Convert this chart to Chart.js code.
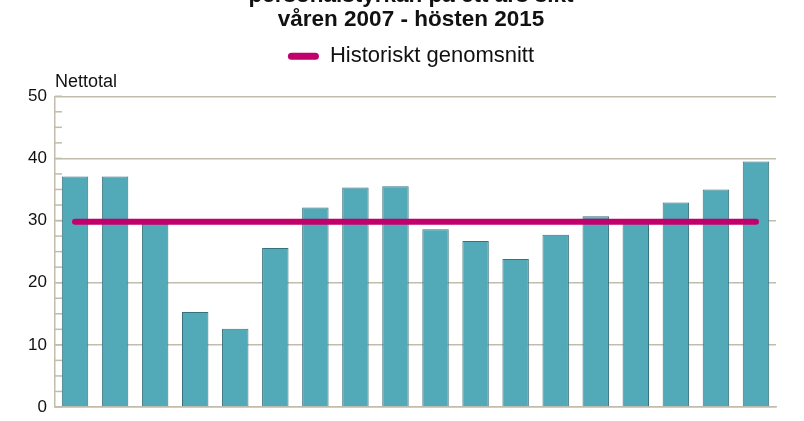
<!DOCTYPE html>
<html lang="sv">
<head>
<meta charset="utf-8">
<title>Personalstyrkan</title>
<script src="https://cdn.jsdelivr.net/npm/chart.js@4.4.1/dist/chart.umd.min.js"></script>
<style>
    html, body { margin: 0; padding: 0; background: #fff; overflow: hidden; }
    #wrap { position: relative; width: 804px; height: 421px; overflow: hidden; }
    #box { position: absolute; left: 0; top: -18px; width: 804px; height: 439px; }
</style>
</head>
<body>
<div id="wrap">
    <div id="box"><canvas id="barChart"></canvas></div>
</div>
<script>
// Chart data
const periods = ['V07', 'H07', 'V08', 'H08', 'V09', 'H09', 'V10', 'H10', 'V11',
                 'H11', 'V12', 'H12', 'V13', 'H13', 'V14', 'H14', 'V15', 'H15'];
const nettotal = [37.1, 37.1, 29.5, 15.3, 12.6, 25.6, 32.1, 35.3, 35.5,
                  28.6, 26.7, 23.8, 27.7, 30.7, 30.2, 32.9, 35.0, 39.5];
const historicalMean = periods.map(() => 29.8);
const titleLines = ['personalstyrkan på ett års sikt', 'våren 2007 - hösten 2015'];
const yTicks = { min: 0, max: 50, step: 2.5, labelEvery: 10 };

const gridColor = '#c2bcac';
const barColor = '#52a9b8';
const barBorder = '#37717d';
const meanColor = '#c2006c';
const font = 'Liberation Sans, Arial, sans-serif';

// Short ticks drawn inside the plot on the y axis, plus the unit label
const innerTicks = {
    id: 'innerTicks',
    beforeDatasetsDraw(chart) {
        const ctx = chart.ctx;
        const y = chart.scales.y;
        const left = chart.chartArea.left;
        ctx.save();
        ctx.strokeStyle = gridColor;
        ctx.lineWidth = 1.5;
        y.ticks.forEach(t => {
            const py = y.getPixelForValue(t.value);
            ctx.beginPath();
            ctx.moveTo(left, py);
            ctx.lineTo(left + 7, py);
            ctx.stroke();
        });
        ctx.restore();
    },
    afterDraw(chart) {
        const ctx = chart.ctx;
        ctx.save();
        ctx.fillStyle = '#111';
        ctx.font = '18px ' + font;
        ctx.textAlign = 'left';
        ctx.textBaseline = 'alphabetic';
        ctx.fillText('Nettotal', chart.chartArea.left, chart.chartArea.top - 9);
        ctx.restore();
    }
};

const legendLabels = Chart.defaults.plugins.legend.labels.generateLabels;

// Empty axes used only as spacers
const spacer = size => ({
    display: true,
    grid: { display: false, drawTicks: false },
    border: { display: false },
    ticks: { display: false },
    afterFit: scale => {
        if (scale.isHorizontal()) scale.height = size;
        else scale.width = size;
    }
});

new Chart(document.getElementById('barChart'), {
    data: {
        labels: periods,
        datasets: [
            {
                type: 'line',
                label: 'Historiskt genomsnitt',
                data: historicalMean,
                borderColor: meanColor,
                backgroundColor: meanColor,
                borderWidth: 6,
                borderCapStyle: 'round',
                pointRadius: 0,
                order: 0
            },
            {
                type: 'bar',
                label: 'Nettotal',
                data: nettotal,
                backgroundColor: barColor,
                borderColor: barBorder,
                borderWidth: 1,
                categoryPercentage: 1,
                barPercentage: 0.66,
                order: 1
            }
        ]
    },
    options: {
        responsive: true,
        maintainAspectRatio: false,
        animation: false,
        layout: {
            padding: { left: 18, right: 0, top: 0, bottom: 14 }
        },
        plugins: {
            title: {
                display: true,
                text: titleLines,
                color: '#111',
                font: { family: font, size: 22.5, weight: 'bold', lineHeight: 1.05 },
                padding: { top: 2, bottom: 4 }
            },
            legend: {
                display: true,
                labels: {
                    color: '#111',
                    font: { family: font, size: 22 },
                    boxWidth: 31,
                    boxHeight: 7,
                    useBorderRadius: true,
                    borderRadius: 3.5,
                    padding: 10,
                    filter: item => item.datasetIndex === 0,
                    generateLabels: chart => legendLabels(chart).map(l => {
                        l.lineWidth = 0;
                        return l;
                    })
                }
            },
            tooltip: { enabled: false }
        },
        scales: {
            x: {
                offset: true,
                grid: { display: false, drawTicks: false },
                border: { display: true, color: gridColor, width: 1.5 },
                ticks: { display: false },
                afterFit: scale => { scale.height = 0; }
            },
            xTop: Object.assign({ type: 'category', position: 'top' }, spacer(19)),
            y: {
                min: yTicks.min,
                max: yTicks.max,
                border: { display: true, color: gridColor, width: 1.5 },
                grid: {
                    drawTicks: false,
                    lineWidth: 1.5,
                    color: ctx => (ctx.tick && ctx.tick.value % yTicks.labelEvery === 0) ? gridColor : 'rgba(0,0,0,0)'
                },
                ticks: {
                    stepSize: yTicks.step,
                    autoSkip: false,
                    padding: 8,
                    color: '#111',
                    font: { family: font, size: 17 },
                    callback: v => (v % yTicks.labelEvery === 0 ? v : '')
                },
                afterFit: scale => {
                    scale.width = 37;
                    scale.paddingBottom = 0;
                }
            },
            yRight: Object.assign({ type: 'linear', position: 'right' }, spacer(28))
        }
    },
    plugins: [innerTicks]
});
</script>
</body>
</html>
